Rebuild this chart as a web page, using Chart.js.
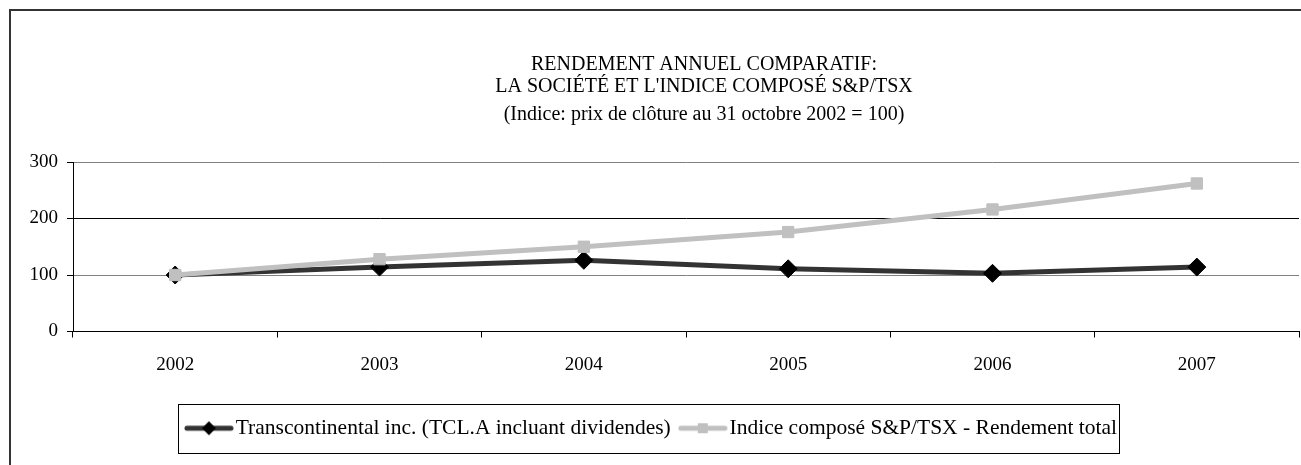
<!DOCTYPE html>
<html lang="fr">
<head>
    <meta charset="UTF-8">
    <title>Rendement annuel comparatif</title>
    <script src="https://cdn.jsdelivr.net/npm/chart.js"></script>
    <style>
        body { margin: 0; background: #fff; overflow: hidden; }
        canvas { display: block; }
    </style>
</head>
<body>
<canvas id="rendementChart" width="1301" height="465"></canvas>

<script>
    const annees = ['2002', '2003', '2004', '2005', '2006', '2007'];
    const transcontinental = [100, 114, 126, 111, 103, 114];
    const indiceTSX = [100, 128, 150, 176, 216, 262];
    const graduationsY = [0, 100, 200, 300];

    const titre = ['RENDEMENT ANNUEL COMPARATIF:', "LA SOCIÉTÉ ET L'INDICE COMPOSÉ S&P/TSX"];
    const sousTitre = '(Indice: prix de clôture au 31 octobre 2002 = 100)';
    const libelles = ['Transcontinental inc. (TCL.A incluant dividendes)', 'Indice composé S&P/TSX - Rendement total'];

    const police = '"Liberation Serif", "Times New Roman", serif';

    // petit échantillon ligne + marqueur pour la légende
    function echantillon(couleurLigne, forme, couleurMarqueur) {
        const c = document.createElement('canvas');
        c.width = 50;
        c.height = 20;
        const g = c.getContext('2d');
        g.strokeStyle = couleurLigne;
        g.lineWidth = 5;
        g.lineCap = 'round';
        g.beginPath();
        g.moveTo(3, 10);
        g.lineTo(47, 10);
        g.stroke();
        g.fillStyle = couleurMarqueur;
        g.beginPath();
        if (forme === 'losange') {
            g.moveTo(25, 3); g.lineTo(32, 10); g.lineTo(25, 17); g.lineTo(18, 10);
        } else {
            g.rect(20, 5, 10, 10);
        }
        g.fill();
        return c;
    }
    const echantillons = [echantillon('#333333', 'losange', '#000000'), echantillon('#c0c0c0', 'carre', '#c0c0c0')];

    const cadre = {
        id: 'cadre',
        afterLayout(chart) {
            // le titre est centré sur le cadre complet de l'original (coupé à droite)
            chart.boxes.forEach(b => {
                if (b.position === 'top') {
                    const d = 704 - (b.left + b.right) / 2;
                    b.left += d;
                    b.right += d;
                }
            });
            const lg = chart.legend;
            const p = lg.options.labels.padding;
            const debut = (lg.left + p + lg.right - lg.lineWidths[0]) / 2;
            const voulu = 648.5 - (lg.lineWidths[0] - p - 13) / 2;
            lg.left += voulu - debut;
            lg.right += voulu - debut;
        },
        beforeDraw(chart) {
            const ctx = chart.ctx;
            ctx.save();
            ctx.strokeStyle = '#333';
            ctx.lineWidth = 2;
            ctx.beginPath();
            ctx.moveTo(10, chart.height);
            ctx.lineTo(10, 10);
            ctx.lineTo(chart.width, 10);
            ctx.stroke();
            ctx.restore();
        },
        afterDraw(chart) {
            const h = chart.legend.legendHitBoxes;
            if (!h || !h.length) return;
            const gauche = Math.round(h[0].left - 15) + 0.5;
            const droite = Math.round(h[h.length - 1].left + h[h.length - 1].width + 2) + 0.5;
            const haut = Math.round(h[0].top - 14) + 0.5;
            const bas = Math.round(h[0].top + h[0].height + 14) + 0.5;
            const ctx = chart.ctx;
            ctx.save();
            ctx.strokeStyle = '#000';
            ctx.lineWidth = 1;
            ctx.strokeRect(gauche, haut, droite - gauche, bas - haut);
            ctx.restore();
        }
    };

    new Chart(document.getElementById('rendementChart'), {
        type: 'line',
        data: {
            labels: annees,
            datasets: [
                {
                    label: libelles[0],
                    data: transcontinental,
                    borderColor: '#333333',
                    borderWidth: 5,
                    pointStyle: 'rectRot',
                    pointRadius: 9,
                    pointBackgroundColor: '#000',
                    pointBorderColor: '#000',
                    pointBorderWidth: 1,
                    order: 1
                },
                {
                    label: libelles[1],
                    data: indiceTSX,
                    borderColor: '#c0c0c0',
                    borderWidth: 5,
                    pointStyle: 'rect',
                    pointRadius: 8,
                    pointBackgroundColor: '#c0c0c0',
                    pointBorderColor: '#c0c0c0',
                    pointBorderWidth: 1,
                    order: 0
                }
            ]
        },
        options: {
            responsive: false,
            devicePixelRatio: 1,
            animation: false,
            events: [],
            layout: { autoPadding: false, padding: { top: 12, left: 0, right: 2, bottom: 16 } },
            plugins: {
                title: {
                    display: true,
                    text: titre,
                    color: '#000',
                    font: { family: police, size: 20, weight: 'normal', lineHeight: '22px' },
                    padding: { top: 42, bottom: 0 }
                },
                subtitle: {
                    display: true,
                    text: sousTitre,
                    color: '#000',
                    font: { family: police, size: 20, weight: 'normal', lineHeight: '22px' },
                    padding: { top: 6, bottom: 36 }
                },
                legend: {
                    position: 'bottom',
                    labels: {
                        color: '#000',
                        font: { family: police, size: 21.5 },
                        usePointStyle: true,
                        pointStyleWidth: 32,
                        boxHeight: 21,
                        padding: 16,
                        sort: (a, b) => a.datasetIndex - b.datasetIndex,
                        generateLabels(chart) {
                            const items = Chart.defaults.plugins.legend.labels.generateLabels(chart);
                            items.forEach(it => { it.pointStyle = echantillons[it.datasetIndex]; });
                            return items;
                        }
                    }
                },
                tooltip: { enabled: false }
            },
            scales: {
                x: {
                    offset: true,
                    afterFit(scale) { scale.height = 70; },
                    grid: {
                        offset: true,
                        drawOnChartArea: true,
                        color: c => c.index === annees.length ? '#999' : 'rgba(0,0,0,0)',
                        tickColor: '#000',
                        tickLength: 6
                    },
                    border: { color: '#000', width: 1 },
                    ticks: { color: '#000', padding: 16, font: { family: police, size: 19 } }
                },
                y: {
                    min: 0,
                    max: 300,
                    afterFit(scale) { scale.width = 73; },
                    afterBuildTicks(scale) { scale.ticks = graduationsY.map(v => ({ value: v })); },
                    grid: {
                        color: c => c.tick && c.tick.value === 200 ? '#000' : '#808080',
                        tickColor: '#000',
                        tickLength: 6
                    },
                    border: { color: '#000', width: 1 },
                    ticks: { color: '#000', padding: 9, font: { family: police, size: 19 } }
                }
            }
        },
        plugins: [cadre]
    });
</script>
</body>
</html>
